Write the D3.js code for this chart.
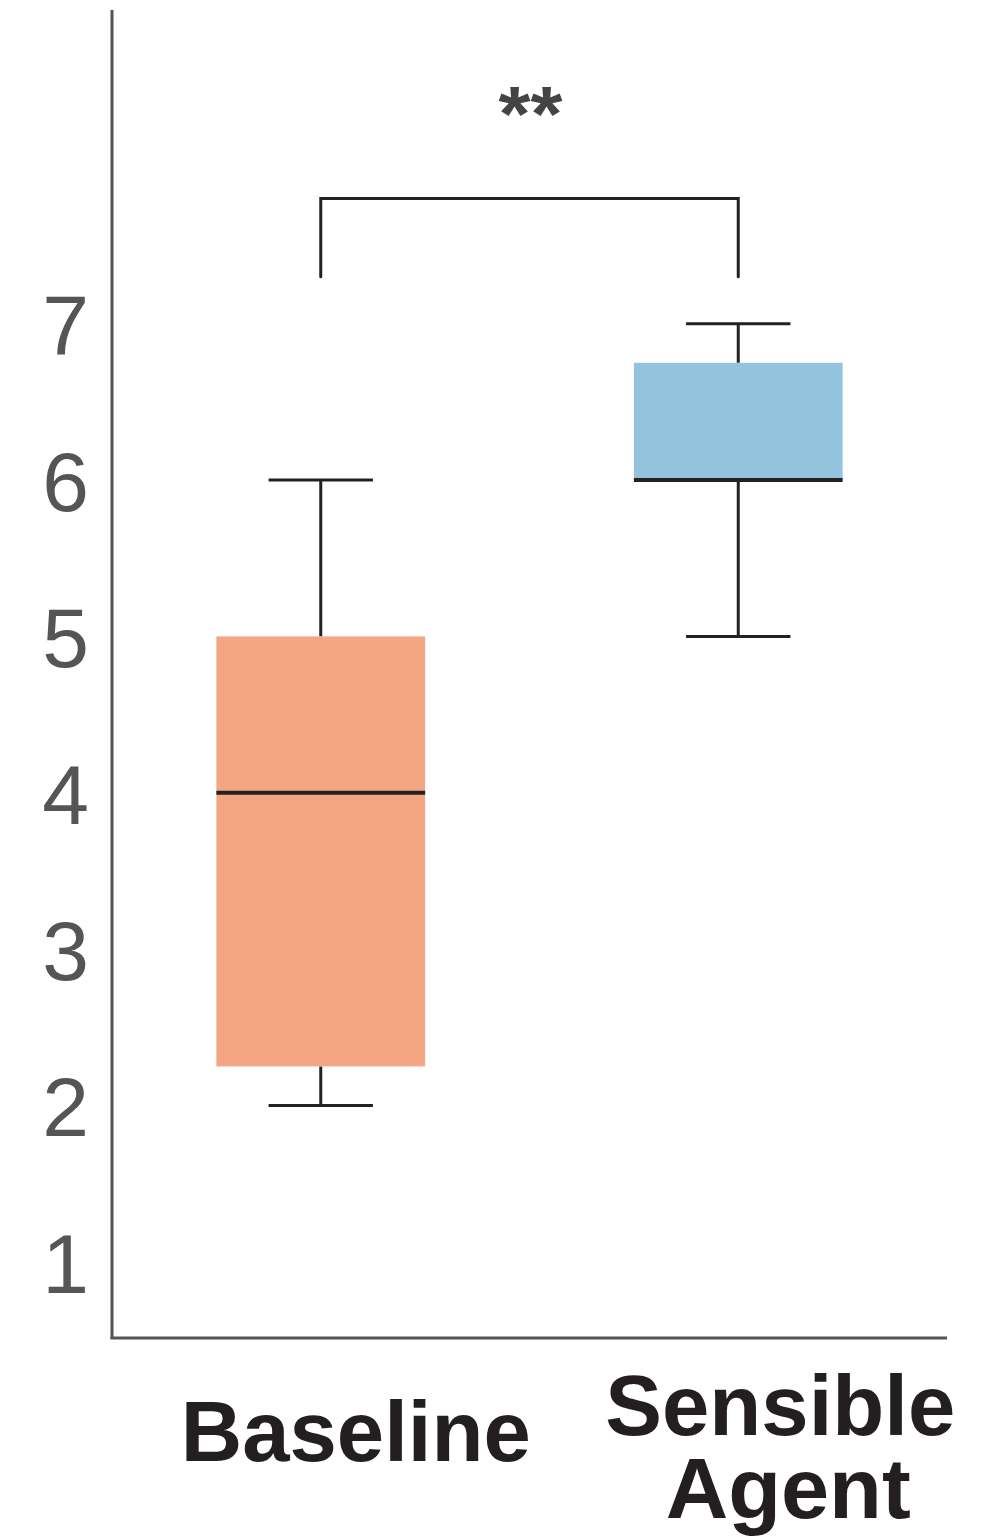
<!DOCTYPE html>
<html>
<head>
<meta charset="utf-8">
<script src="https://cdn.jsdelivr.net/npm/d3@7"></script>
<style>
  body { margin: 0; background: #fff; }
  text { font-family: "Liberation Sans", Arial, Helvetica, sans-serif; }
</style>
</head>
<body>
<div id="chart"></div>
<script>
// data
var groups = ["Baseline", "Sensible Agent"];
var groupLines = [["Baseline"], ["Sensible", "Agent"]];
var whiskerLow = [2, 5];
var q1 = [2.25, 6];
var medians = [4, 6];
var q3 = [5, 6.75];
var whiskerHigh = [6, 7];
var boxColors = ["#f4a683", "#94c4dd"];
var yTicks = [1, 2, 3, 4, 5, 6, 7];
var bracketTop = 7.8, bracketLegBottom = 7.3, starsLevel = 8.17, starsText = "**";

var W = 996, H = 1537;
var margin = {top: 10, right: 49, bottom: 199, left: 112};
var width = W - margin.left - margin.right;
var height = H - margin.top - margin.bottom;

var svg = d3.select("#chart").append("svg")
  .attr("width", W)
  .attr("height", H)
  .append("g")
  .attr("transform", "translate(" + margin.left + "," + margin.top + ")");

var x = d3.scaleBand().domain(groups).range([0, width]).padding(0);
var y = d3.scaleLinear().domain([0.5, 9]).range([height + 2, 1]);

var boxW = x.bandwidth() * 0.5;
var capW = boxW * 0.5;
var cx = function(i) { return x(groups[i]) + x.bandwidth() / 2; };

var data = groups.map(function(g, i) {
  return {name: g, lo: whiskerLow[i], q1: q1[i], med: medians[i], q3: q3[i], hi: whiskerHigh[i], color: boxColors[i], i: i};
});

var box = svg.selectAll("g.box").data(data).enter().append("g").attr("class", "box");

// whiskers
box.append("line")
  .attr("x1", function(d) { return cx(d.i); })
  .attr("x2", function(d) { return cx(d.i); })
  .attr("y1", function(d) { return y(d.lo); })
  .attr("y2", function(d) { return y(d.q1); })
  .attr("stroke", "#222").attr("stroke-width", 3);
box.append("line")
  .attr("x1", function(d) { return cx(d.i); })
  .attr("x2", function(d) { return cx(d.i); })
  .attr("y1", function(d) { return y(d.q3); })
  .attr("y2", function(d) { return y(d.hi); })
  .attr("stroke", "#222").attr("stroke-width", 3);
["lo", "hi"].forEach(function(k) {
  box.append("line")
    .attr("x1", function(d) { return cx(d.i) - capW / 2; })
    .attr("x2", function(d) { return cx(d.i) + capW / 2; })
    .attr("y1", function(d) { return y(d[k]); })
    .attr("y2", function(d) { return y(d[k]); })
    .attr("stroke", "#222").attr("stroke-width", 3);
});

// boxes
box.append("rect")
  .attr("x", function(d) { return cx(d.i) - boxW / 2; })
  .attr("width", boxW)
  .attr("y", function(d) { return y(d.q3); })
  .attr("height", function(d) { return y(d.q1) - y(d.q3); })
  .attr("fill", function(d) { return d.color; });

// medians
box.append("line")
  .attr("x1", function(d) { return cx(d.i) - boxW / 2; })
  .attr("x2", function(d) { return cx(d.i) + boxW / 2; })
  .attr("y1", function(d) { return y(d.med); })
  .attr("y2", function(d) { return y(d.med); })
  .attr("stroke", "#222").attr("stroke-width", 4);

// significance bracket
var bracket = d3.line()([
  [cx(0), y(bracketLegBottom)], [cx(0), y(bracketTop)],
  [cx(1), y(bracketTop)], [cx(1), y(bracketLegBottom)]
]);
svg.append("path")
  .attr("d", bracket)
  .attr("fill", "none")
  .attr("stroke", "#222")
  .attr("stroke-width", 3)
  .attr("stroke-linecap", "round");

svg.append("text")
  .attr("x", (cx(0) + cx(1)) / 2 + 1)
  .attr("y", y(starsLevel))
  .attr("text-anchor", "middle")
  .style("font-size", "78px")
  .style("font-weight", "bold")
  .attr("fill", "#444")
  .attr("textLength", 64)
  .attr("lengthAdjust", "spacingAndGlyphs")
  .text(starsText);

// y axis
var yAxis = svg.append("g")
  .call(d3.axisLeft(y).tickValues(yTicks).tickSize(0).tickPadding(23));
yAxis.select(".domain").attr("stroke", "#555").attr("stroke-width", 3)
  .attr("d", "M0," + (height + 0.5) + "V0");
yAxis.selectAll(".tick text")
  .attr("fill", "#555")
  .style("font-size", "84px")
  .attr("dy", "0.36em");

// x axis
var xAxis = svg.append("g")
  .attr("transform", "translate(0," + height + ")")
  .call(d3.axisBottom(x).tickSize(0).tickFormat(""));
xAxis.select(".domain").attr("stroke", "#555").attr("stroke-width", 3)
  .attr("d", "M-1.5,0H" + (width));

// category labels
var labelOffset = [35, 42];
var labelBase = [123, 97];
var lineGap = 83;
var lenPerLine = {"Baseline": 350, "Sensible": 350, "Agent": 245};
var lineShift = {"Baseline": 0, "Sensible": 0, "Agent": 8};
groups.forEach(function(g, i) {
  groupLines[i].forEach(function(line, j) {
    svg.append("text")
      .attr("x", cx(i) + labelOffset[i] + lineShift[line])
      .attr("y", height + labelBase[i] + j * lineGap)
      .attr("text-anchor", "middle")
      .style("font-size", "86px")
      .style("font-weight", "bold")
      .attr("fill", "#231f20")
      .attr("textLength", lenPerLine[line])
      .attr("lengthAdjust", "spacingAndGlyphs")
      .text(line);
  });
});
</script>
</body>
</html>
